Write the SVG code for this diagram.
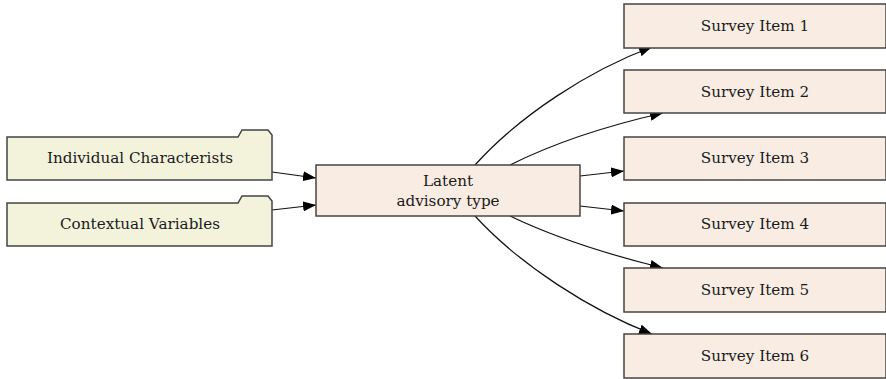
<svg xmlns="http://www.w3.org/2000/svg" width="886" height="379" viewBox="0 0 886 379">
<defs>
<marker id="ah" markerWidth="13" markerHeight="10" refX="13" refY="5" orient="auto" markerUnits="userSpaceOnUse">
<path d="M0,0 L13,5 L0,10 Z" fill="#000"/>
</marker>
</defs>
<style>
.folder{fill:#f3f3dc;stroke:#444;stroke-width:1.5}
.box{fill:#f9ede3;stroke:#444;stroke-width:1.5}
text{font-family:"DejaVu Serif","Liberation Serif",serif;font-size:15.2px;fill:#1a1a1a;text-anchor:middle}
.edge{fill:none;stroke:#111;stroke-width:1.2;marker-end:url(#ah)}
</style>
<rect width="886" height="379" fill="#fff"/>
<g id="edges">
<path class="edge" d="M272,172 L316,178"/>
<path class="edge" d="M272,210 L316,205"/>
<path class="edge" d="M475,165 C520,115 590,70 652,47"/>
<path class="edge" d="M510,165 C560,140 610,125 663,113"/>
<path class="edge" d="M580,176 L624,171"/>
<path class="edge" d="M580,206 L624,211"/>
<path class="edge" d="M510,216 C560,240 610,255 663,268"/>
<path class="edge" d="M475,216 C520,265 590,310 652,334"/>
</g>
<g id="individual">
<path class="folder" d="M7,137 L238,137 L242,130 L268,130 L272,135 L272,180 L7,180 Z"/>
<text x="140" y="163">Individual Characterists</text>
</g>
<g id="contextual">
<path class="folder" d="M7,203 L238,203 L242,196 L268,196 L272,201 L272,246 L7,246 Z"/>
<text x="140" y="229">Contextual Variables</text>
</g>
<g id="latent">
<rect class="box" x="316" y="165" width="264" height="51"/>
<text x="448" y="186">Latent</text>
<text x="448" y="206">advisory type</text>
</g>
<g id="item1"><rect class="box" x="624" y="4" width="262" height="44"/><text x="755" y="31">Survey Item 1</text></g>
<g id="item2"><rect class="box" x="624" y="70" width="262" height="43"/><text x="755" y="97">Survey Item 2</text></g>
<g id="item3"><rect class="box" x="624" y="137" width="262" height="43"/><text x="755" y="163">Survey Item 3</text></g>
<g id="item4"><rect class="box" x="624" y="203" width="262" height="43"/><text x="755" y="229">Survey Item 4</text></g>
<g id="item5"><rect class="box" x="624" y="268" width="262" height="44"/><text x="755" y="295">Survey Item 5</text></g>
<g id="item6"><rect class="box" x="624" y="334" width="262" height="44"/><text x="755" y="361">Survey Item 6</text></g>
</svg>
